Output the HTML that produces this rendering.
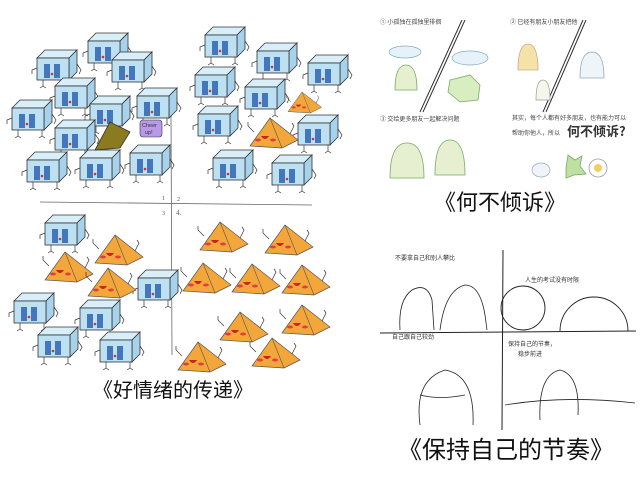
<!DOCTYPE html>
<html><head><meta charset="utf-8"><style>
html,body{margin:0;padding:0;background:#fff;width:640px;height:480px;overflow:hidden}
svg{display:block}
.cap{font-family:"Liberation Sans","Noto Sans CJK SC",sans-serif;fill:#111}
</style></head><body>
<svg width="640" height="480" viewBox="0 0 640 480" xmlns="http://www.w3.org/2000/svg">
<defs>
<g id="cube">
  <polygon points="0,8 8,0 40,0 32,8" fill="#d8eef9" stroke="#333" stroke-width="0.8"/>
  <polygon points="32,8 40,0 40,22 32,30" fill="#a6d2ec" stroke="#333" stroke-width="0.8"/>
  <rect x="0" y="8" width="32" height="22" fill="#bde0f3" stroke="#333" stroke-width="0.8"/>
  <rect x="7" y="14" width="6" height="14" fill="#4476bb"/>
  <rect x="17" y="14" width="6" height="14" fill="#4476bb"/>
  <circle cx="15" cy="24" r="1.3" fill="#c33"/>
  <path d="M0,18 l-5,2 l0,4 M6,30 l0,6 m-3,2 l3,-2 l3,2 M30,30 l0,6 m-3,2 l3,-2 l3,2 M40,14 l4,6 l-2,4" fill="none" stroke="#333" stroke-width="0.7"/>
</g>
<g id="pyr">
  <polygon points="0,28 20,0 48,22 32,30" fill="#f3a73a" stroke="#555" stroke-width="0.7"/>
  <line x1="20" y1="0" x2="32" y2="30" stroke="#555" stroke-width="0.6"/>
  <path d="M11,18 q4,6 8,0 z" fill="#c22"/>
  <ellipse cx="8" cy="22" rx="3" ry="1.5" fill="#e04040"/>
  <ellipse cx="23" cy="22" rx="3" ry="1.5" fill="#e04040"/>
  <path d="M4,14 l-6,-6 l0,-4 M40,16 l4,-8 l-2,-3" fill="none" stroke="#333" stroke-width="0.7"/>
</g>
</defs>
<line x1="171" y1="115" x2="172" y2="355" stroke="#666" stroke-width="0.8"/>
<line x1="40" y1="202" x2="312" y2="205" stroke="#666" stroke-width="0.8"/>
<text x="162" y="200" font-size="6" fill="#555">1</text><text x="177" y="201" font-size="6" fill="#555">2</text>
<text x="162" y="215" font-size="6" fill="#555">3</text><text x="176" y="215" font-size="7" fill="#555">4.</text>
<use href="#cube" x="37" y="50"/><use href="#cube" x="88" y="33"/><use href="#cube" x="112" y="52"/>
<use href="#cube" x="55" y="78"/><use href="#cube" x="12" y="100"/><use href="#cube" x="90" y="96"/>
<use href="#cube" x="55" y="120"/><use href="#cube" x="137" y="88"/><use href="#cube" x="27" y="152"/>
<use href="#cube" x="80" y="150"/><use href="#cube" x="130" y="145"/>
<use href="#cube" x="205" y="27"/><use href="#cube" x="257" y="43"/><use href="#cube" x="308" y="55"/>
<use href="#cube" x="195" y="67"/><use href="#cube" x="245" y="79"/><use href="#cube" x="198" y="106"/>
<use href="#cube" x="298" y="115"/><use href="#cube" x="213" y="150"/><use href="#cube" x="272" y="155"/>
<use href="#cube" x="45" y="215"/><use href="#cube" x="138" y="270"/><use href="#cube" x="14" y="293"/>
<use href="#cube" x="80" y="300"/><use href="#cube" x="38" y="327"/><use href="#cube" x="100" y="332"/>
<polygon points="95,150 110,122 130,132 120,148" fill="#8a7a20" stroke="#333" stroke-width="0.8"/>
<rect x="140" y="120" width="22" height="17" rx="3" fill="#b89ae8" stroke="#333" stroke-width="0.6"/>
<text x="142" y="127" font-size="5.5" font-family="Liberation Sans" fill="#333">Cheer</text>
<text x="145" y="134" font-size="5.5" font-family="Liberation Sans" fill="#333">up!</text>
<use href="#pyr" transform="translate(288,92) scale(0.7)"/>
<use href="#pyr" x="250" y="118"/>
<use href="#pyr" x="95" y="235"/><use href="#pyr" x="45" y="252"/><use href="#pyr" x="88" y="268"/>
<use href="#pyr" x="200" y="222"/><use href="#pyr" x="265" y="225"/><use href="#pyr" x="183" y="263"/>
<use href="#pyr" x="232" y="264"/><use href="#pyr" x="282" y="265"/><use href="#pyr" x="220" y="312"/>
<use href="#pyr" x="282" y="305"/><use href="#pyr" x="178" y="342"/><use href="#pyr" x="252" y="338"/>
<text class="cap" x="173" y="397" font-size="20" text-anchor="middle">《好情绪的传递》</text>

<line x1="462" y1="20" x2="420" y2="112" stroke="#333" stroke-width="1"/>
<line x1="465" y1="20" x2="423" y2="112" stroke="#333" stroke-width="1"/>
<line x1="583" y1="20" x2="543" y2="112" stroke="#333" stroke-width="1"/>
<line x1="586" y1="20" x2="546" y2="112" stroke="#333" stroke-width="1"/>
<text x="380" y="24" font-size="6" fill="#444" font-family="Noto Sans CJK SC">① 小孤独在孤独里徘徊</text>
<text x="510" y="24" font-size="6" fill="#444" font-family="Noto Sans CJK SC">② 已经有朋友小朋友把他</text>
<text x="380" y="121" font-size="6" fill="#444" font-family="Noto Sans CJK SC">③ 交给更多朋友一起解决问题</text>
<text x="512" y="120" font-size="6" fill="#444" font-family="Noto Sans CJK SC">其实，每个人都有好多朋友，也有能力可以</text>
<text x="512" y="135" font-size="6" fill="#444" font-family="Noto Sans CJK SC">帮助你他人，所以</text>
<text x="567" y="136" font-size="13" font-weight="bold" fill="#333" font-family="Noto Sans CJK SC">何不倾诉?</text>
<ellipse cx="405" cy="52" rx="16" ry="6" fill="#e6f2fa" stroke="#8ab" stroke-width="0.7"/>
<path d="M395,90 q0,-25 11,-25 q11,0 11,25 z" fill="#e6f0d0" stroke="#7a6" stroke-width="0.8"/>
<ellipse cx="470" cy="58" rx="18" ry="7" fill="#e6f2fa" stroke="#8ab" stroke-width="0.7"/>
<polygon points="450,80 470,75 480,85 478,100 460,102 448,92" fill="#d8eec0" stroke="#7a6" stroke-width="0.8"/>
<path d="M518,70 q0,-26 10,-26 q10,0 10,26 z" fill="#f5e2a8" stroke="#ca8" stroke-width="0.8"/>
<path d="M580,78 q0,-26 12,-26 q12,0 12,26 z" fill="#eef4fa" stroke="#9ab" stroke-width="0.8"/>
<path d="M536,100 q0,-20 7,-20 q7,0 7,20 z" fill="#f4f7ec" stroke="#999" stroke-width="0.7"/>
<path d="M390,178 q0,-35 17,-35 q17,0 17,35 z" fill="#e6f0d0" stroke="#7a6" stroke-width="0.8"/>
<path d="M435,175 q0,-35 15,-35 q15,0 15,35 z" fill="#e6f0d0" stroke="#7a6" stroke-width="0.8"/>
<ellipse cx="541" cy="170" rx="9" ry="7" fill="#eef4fa" stroke="#9ab" stroke-width="0.7"/>
<polygon points="568,155 575,160 582,156 580,166 586,174 574,175 566,178 566,168" fill="#bfe0a0" stroke="#7a6" stroke-width="0.8"/>
<circle cx="598" cy="168" r="9" fill="#fff" stroke="#999" stroke-width="0.8"/>
<circle cx="598" cy="168" r="4" fill="#f2d060"/>
<text class="cap" x="500" y="210" font-size="22" text-anchor="middle">《何不倾诉》</text>

<line x1="503" y1="250" x2="502" y2="430" stroke="#222" stroke-width="1"/>
<line x1="380" y1="333" x2="636" y2="331" stroke="#222" stroke-width="1"/>
<text x="395" y="260" font-size="6" fill="#333" font-family="Noto Sans CJK SC">不要拿自己和别人攀比</text>
<text x="525" y="282" font-size="6" fill="#333" font-family="Noto Sans CJK SC">人生的考试没有时限</text>
<text x="392" y="339" font-size="6" fill="#333" font-family="Noto Sans CJK SC">自己跟自己较劲</text>
<text x="508" y="346" font-size="6" fill="#333" font-family="Noto Sans CJK SC">保持自己的节奏，</text>
<text x="518" y="356" font-size="6" fill="#333" font-family="Noto Sans CJK SC">稳步前进</text>
<circle cx="523" cy="308" r="22" fill="none" stroke="#222" stroke-width="0.9"/>
<path d="M560,331 a34,34 0 0 1 68,0" fill="none" stroke="#222" stroke-width="0.9"/>
<path d="M400,330 q-2,-30 12,-40 q15,-8 20,10 l2,30 M440,330 q5,-40 25,-45 q15,0 20,30 l2,15" fill="none" stroke="#222" stroke-width="0.8"/>
<path d="M420,425 q-6,-45 25,-55 q30,5 28,55 M420,395 q20,5 45,0" fill="none" stroke="#222" stroke-width="0.8"/>
<path d="M540,420 q-2,-45 20,-50 q20,5 18,45 M505,405 q60,-10 130,-2" fill="none" stroke="#222" stroke-width="0.8"/>
<text class="cap" x="506" y="458" font-size="24" text-anchor="middle">《保持自己的节奏》</text>
</svg>
</body></html>
